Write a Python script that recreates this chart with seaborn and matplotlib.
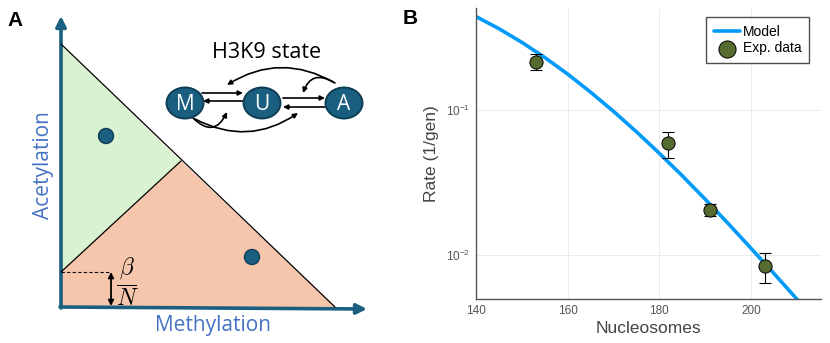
import numpy as np
import pandas as pd
import seaborn as sns
import matplotlib.pyplot as plt
from matplotlib.patches import Polygon, Ellipse, Circle, FancyArrowPatch

# Panel B data
model_x = [140, 145, 150, 155, 160, 165, 170, 175, 180, 185, 190, 195, 200, 205, 210, 211]
model_rate = [0.4365, 0.3606, 0.2904, 0.2286, 0.1758, 0.1321, 0.0975, 0.0706, 0.0502,
              0.0352, 0.0243, 0.01656, 0.01117, 0.00750, 0.00501, 0.00462]
exp_x = [153, 182, 191, 203]
exp_rate = [0.214, 0.0588, 0.0205, 0.00845]
exp_lo = [0.186, 0.0466, 0.0186, 0.00643]
exp_hi = [0.240, 0.0706, 0.0224, 0.0104]

# Panel A schematic (pixel units of the left half)
tri_green = [(61, 44), (61, 272), (181, 161)]
tri_orange = [(61, 272), (181, 161), (335, 307), (61, 307)]
state_names = ['M', 'U', 'A']
state_x = [185, 262, 344]
state_y = 103
dots_x = [106, 252]
dots_y = [136, 257]

sns.set_style("white")
plt.rcParams['font.family'] = ['Liberation Sans', 'DejaVu Sans']
plt.rcParams['mathtext.fontset'] = 'cm'
plt.rcParams['text.color'] = 'black'

fig = plt.figure(figsize=(8.3, 3.43), dpi=100)

# ---------------- Panel A ----------------
axA = fig.add_axes([0, 0, 400 / 830, 1])
axA.set_xlim(0, 400)
axA.set_ylim(343, 0)
axA.axis('off')

dark = '#1b5f80'
blue_txt = '#4472C4'
afont = 'Open Sans'

axA.add_patch(Polygon(tri_green, closed=True, fc='#d9f2d0', ec='none'))
axA.add_patch(Polygon(tri_orange, closed=True, fc='#f6c6ac', ec='none'))
axA.plot([61, 335], [44, 307], color='black', lw=0.9)
axA.plot([61, 181], [272, 161], color='black', lw=0.9)
axA.plot([61, 111], [272, 272], color='black', lw=0.8, ls=(0, (3, 2)))
axA.add_patch(FancyArrowPatch((111, 272), (111, 306), arrowstyle='<|-|>',
                              mutation_scale=8, lw=1.3, color='black', shrinkA=0, shrinkB=0))
axA.text(127, 282, r'$\dfrac{\beta}{N}$', fontsize=17, ha='center', va='center')

# axes arrows
axA.add_patch(FancyArrowPatch((61, 308), (61, 16), arrowstyle='-|>', mutation_scale=15,
                              lw=2.6, color=dark, shrinkA=0, shrinkB=0))
axA.add_patch(FancyArrowPatch((60, 307), (367, 309), arrowstyle='-|>', mutation_scale=15,
                              lw=2.6, color=dark, shrinkA=0, shrinkB=0))
axA.text(44, 165, 'Acetylation', rotation=90, fontsize=15, color=blue_txt,
         ha='center', va='center', family=afont)
axA.text(213, 326, 'Methylation', fontsize=15, color=blue_txt,
         ha='center', va='center', family=afont)

for x, y in zip(dots_x, dots_y):
    axA.add_patch(Circle((x, y), 7.5, fc=dark, ec='#0e3d55', lw=1))

# state diagram
axA.text(267, 52, 'H3K9 state', fontsize=15.5, ha='center', va='center', family=afont)
for name, x in zip(state_names, state_x):
    axA.add_patch(Ellipse((x, state_y), 37, 31, fc=dark, ec='#0e3d55', lw=1.4, zorder=3))
    axA.text(x, state_y + 1, name, color='white', fontsize=15, ha='center', va='center',
             family=afont, zorder=4)

arr = dict(arrowstyle='-|>', mutation_scale=7, lw=1.2, color='black', shrinkA=0, shrinkB=0)
axA.add_patch(FancyArrowPatch((202, 93), (243, 93), **arr))
axA.add_patch(FancyArrowPatch((243, 101), (203, 101), **arr))
axA.add_patch(FancyArrowPatch((283, 98), (325, 98), **arr))
axA.add_patch(FancyArrowPatch((327, 107), (283, 107), **arr))
axA.add_patch(FancyArrowPatch((335, 83), (227, 85), connectionstyle='arc3,rad=0.3', **arr))
axA.add_patch(FancyArrowPatch((333, 82), (303, 93), connectionstyle='arc3,rad=0.6', **arr))
axA.add_patch(FancyArrowPatch((193, 118), (227, 112), connectionstyle='arc3,rad=0.7', **arr))
axA.add_patch(FancyArrowPatch((195, 119), (298, 113), connectionstyle='arc3,rad=0.3', **arr))

fig.text(15 / 830, 1 - 21 / 343, 'A', fontsize=15, fontweight='bold', ha='center', va='center')
fig.text(410 / 830, 1 - 19 / 343, 'B', fontsize=15, fontweight='bold', ha='center', va='center')

# ---------------- Panel B ----------------
axB = fig.add_axes([476 / 830, 1 - 299 / 343, 345 / 830, 291 / 343])
sns.lineplot(x=model_x, y=model_rate, ax=axB, color='#009AF9', lw=2.6, label='Model')
yerr = [np.array(exp_rate) - np.array(exp_lo), np.array(exp_hi) - np.array(exp_rate)]
axB.errorbar(exp_x, exp_rate, yerr=yerr, fmt='none', ecolor='black', elinewidth=0.8,
             capsize=4.5, capthick=0.8, zorder=3)
sns.scatterplot(x=exp_x, y=exp_rate, ax=axB, s=90, color='#556B2F', edgecolor='black',
                linewidth=0.7, label='Exp. data', zorder=4)

axB.set_yscale('log')
axB.set_xlim(140, 215.3)
axB.set_ylim(0.005, 0.5)
axB.set_xticks([140, 160, 180, 200])
axB.set_yticks([0.1, 0.01])
axB.minorticks_off()
axB.grid(True, color='#e8e8e8', lw=0.6)
for s in ['top', 'right']:
    axB.spines[s].set_visible(False)
for s in ['left', 'bottom']:
    axB.spines[s].set_color('#555555')
    axB.spines[s].set_linewidth(1)
axB.tick_params(direction='in', length=3, width=0.7, color='#555555', labelcolor='#555555',
                labelsize=8.5, pad=4)
axB.set_xlabel('Nucleosomes', fontsize=12.5, color='#444444', labelpad=3)
axB.set_ylabel('Rate (1/gen)', fontsize=12.5, color='#444444', labelpad=5)

leg = axB.legend(loc='upper right', bbox_to_anchor=(809 / 830, 1 - 17 / 343),
                 bbox_transform=fig.transFigure, borderaxespad=0, fontsize=10,
                 fancybox=False, frameon=True, handlelength=1.9, handletextpad=0.2,
                 borderpad=0.55, labelspacing=0.2, markerscale=1.3)
leg.get_frame().set_edgecolor('#222222')
leg.get_frame().set_linewidth(1)

fig.savefig('out.png', dpi=100)
